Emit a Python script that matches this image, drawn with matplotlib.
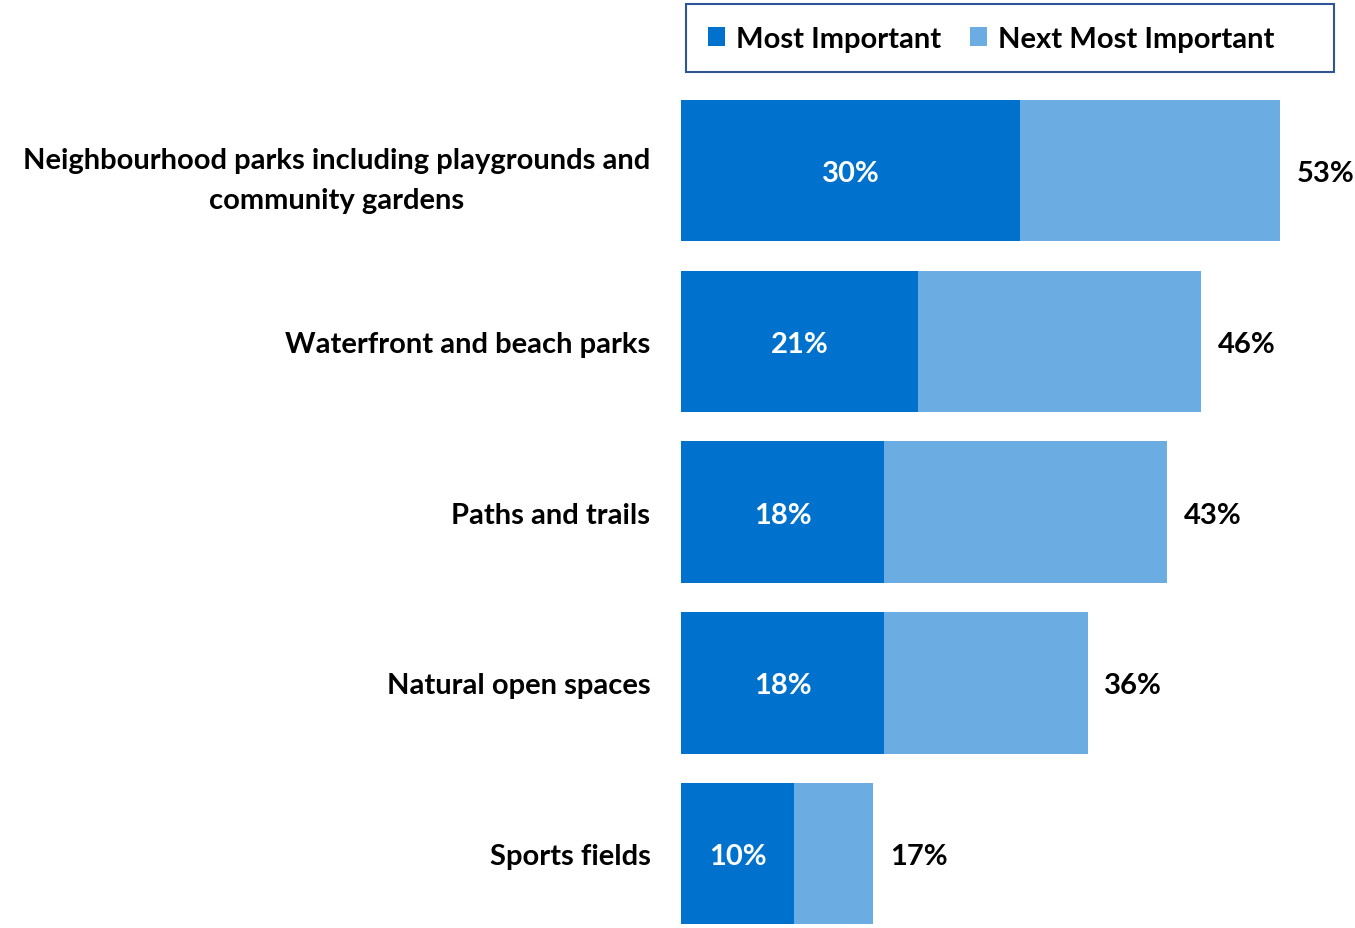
"""
Importance of park types: share naming each as most / next most important.
Output: out.png
"""
import matplotlib
matplotlib.use("Agg")
import matplotlib.pyplot as plt
from matplotlib.patches import Patch, Rectangle
import numpy as np

plt.rcParams.update({
    "font.family": ["Lato", "DejaVu Sans"],
    "font.weight": "bold",
    "font.size":   21,
})

DARK_BLUE  = "#0071CD"
LIGHT_BLUE = "#6BADE3"
FRAME_BLUE = "#2F5597"

categories = [
    "Neighbourhood parks including playgrounds and\ncommunity gardens",
    "Waterfront and beach parks",
    "Paths and trails",
    "Natural open spaces",
    "Sports fields",
]
most_important = [30, 21, 18, 18, 10]
total_important = [53, 46, 43, 36, 17]
next_important = [t - m for t, m in zip(total_important, most_important)]

W, H = 1355, 929
fig = plt.figure(figsize=(W / 100, H / 100), dpi=100)
ax = fig.add_axes([681 / W, 0, 674 / W, (929 - 86) / H])

y_pos = np.arange(len(categories))
ax.barh(y_pos, most_important, height=0.827, color=DARK_BLUE, linewidth=0)
ax.barh(y_pos, next_important, left=most_important, height=0.827,
        color=LIGHT_BLUE, linewidth=0)

for y, m, t in zip(y_pos, most_important, total_important):
    ax.text(m / 2, y, f"{m}%", ha="center", va="center_baseline",
            color="white", fontsize=21, fontweight="bold")
    ax.annotate(f"{t}%", xy=(t, y), xytext=(12, 0), textcoords="offset points",
                ha="left", va="center_baseline", color="black",
                fontsize=21, fontweight="bold")

ax.set_xlim(0, 59.65)
ax.set_ylim(4.435, -0.5)
ax.set_yticks(y_pos)
ax.set_yticklabels(categories)
for lbl in ax.get_yticklabels():
    lbl.set_multialignment("center")
    lbl.set_linespacing(1.65)
ax.tick_params(axis="y", length=0, pad=22)
ax.set_xticks([])
for s in ax.spines.values():
    s.set_visible(False)

# legend box along the top
fig.patches.append(Rectangle((686 / W, 1 - 73 / H), 648 / W, 68 / H,
                             transform=fig.transFigure, fill=False,
                             edgecolor=FRAME_BLUE, linewidth=1.5))
handles = [Patch(facecolor=DARK_BLUE, label="Most Important"),
           Patch(facecolor=LIGHT_BLUE, label="Next Most Important")]
fig.legend(handles=handles, loc="center", bbox_to_anchor=(991 / W, 1 - 40 / H),
           ncol=2, frameon=False, handlelength=0.6, handleheight=0.6,
           handletextpad=0.35, columnspacing=1.0, fontsize=21)

fig.savefig("out.png", dpi=100)
